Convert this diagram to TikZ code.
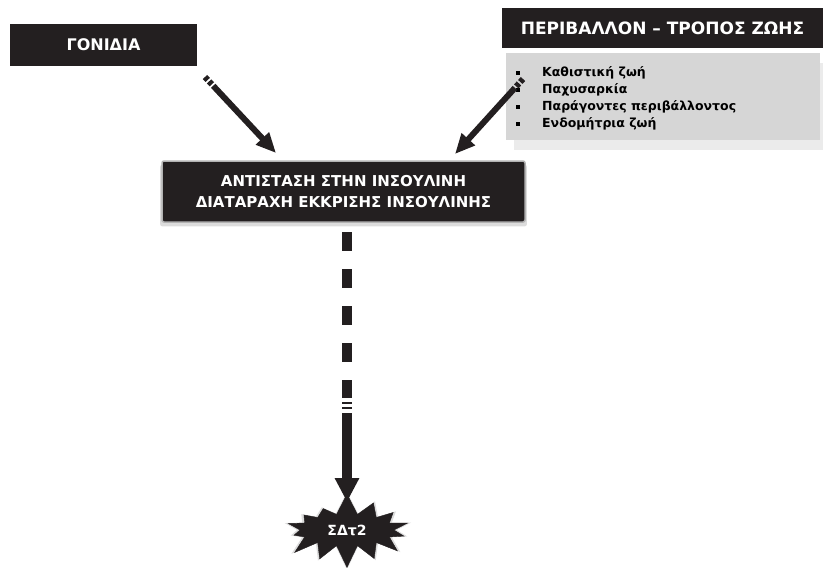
\documentclass[tikz,border=0pt]{standalone}
\usepackage{fontspec}
\setmainfont{DejaVu Sans}
\usetikzlibrary{arrows.meta,shadows,shapes.symbols}
\definecolor{ink}{HTML}{231F20}
\definecolor{panel}{HTML}{D6D6D6}
\definecolor{panelshade}{HTML}{EBEBEB}

\begin{document}
\begin{tikzpicture}[x=1pt,y=-1pt]
        \tikzstyle{blackbox}=[fill=ink, text=white, inner sep=0pt]
        \tikzstyle{pencil}=[ink, line width=6pt, -{Triangle[length=20pt,width=17pt]},
          dash pattern=on 4pt off 2pt on 4pt off 2pt on 400pt]
        \tikzstyle{dropline}=[ink, line width=10pt, -{Triangle[length=24pt,width=23pt]},
          dash pattern=on 19pt off 18pt on 19pt off 18pt on 19pt off 18pt on 19pt off 18pt
          on 18pt off 4pt on 2pt off 3pt on 2pt off 4pt on 300pt]
        \useasboundingbox (0,0) rectangle (823,568);
        % causes
        \node[blackbox, minimum width=187pt, minimum height=42pt,
          font=\bfseries\fontsize{16}{18}\selectfont] (g) at (103.5,45) {ΓΟΝΙΔΙΑ};
        \node[blackbox, minimum width=321pt, minimum height=40pt,
          font=\bfseries\fontsize{17}{20}\selectfont] (p) at (662.5,28) {ΠΕΡΙΒΑΛΛΟΝ – ΤΡΟΠΟΣ ΖΩΗΣ};
        \node[fill=panel, minimum width=314pt, minimum height=87pt,
          general shadow={fill=panelshade, shadow xshift=8pt, shadow yshift=-10pt}] (l) at (663,96.5) {};
        \node[anchor=west, align=left, inner sep=0pt, font=\bfseries\fontsize{12.5}{17}\selectfont] (t) at (516,98.5)
          {\raisebox{2pt}{\rule{4pt}{4pt}}\hspace{22pt}Καθιστική ζωή\\
           \raisebox{2pt}{\rule{4pt}{4pt}}\hspace{22pt}Παχυσαρκία\\
           \raisebox{2pt}{\rule{4pt}{4pt}}\hspace{22pt}Παράγοντες περιβάλλοντος\\
           \raisebox{2pt}{\rule{4pt}{4pt}}\hspace{22pt}Ενδομήτρια ζωή};
        % result
        \node[blackbox, draw=gray!60, line width=1.5pt, rounded corners=2pt, minimum width=363pt,
          minimum height=61pt, align=center, font=\bfseries\fontsize{15}{21}\selectfont,
          drop shadow={fill=gray!55, shadow xshift=0pt, shadow yshift=-4pt, shadow scale=1.01}] (a) at (343.5,191.5)
          {ΑΝΤΙΣΤΑΣΗ ΣΤΗΝ ΙΝΣΟΥΛΙΝΗ\\ΔΙΑΤΑΡΑΧΗ ΕΚΚΡΙΣΗΣ ΙΝΣΟΥΛΙΝΗΣ};
        \node[starburst, starburst points=14, starburst point height=22pt, random starburst=7,
          fill=ink, draw=ink, minimum width=138pt, minimum height=76pt, text=white, inner sep=6pt,
          font=\bfseries\fontsize{14}{16}\selectfont,
          drop shadow={fill=gray!55, shadow xshift=0pt, shadow yshift=0pt, shadow scale=1.06}] (s) at (347,530) {ΣΔτ2};
        % arrows
        \coordinate (t1) at (205,77);
        \coordinate (h1) at (276,153);
        \coordinate (t2) at (523,79);
        \coordinate (h2) at (455,154);
        \coordinate (t3) at (347,232);
        \coordinate (h3) at (347,502);
        \draw[pencil] (t1) -- (h1);
        \draw[pencil] (t2) -- (h2);
        \draw[dropline] (t3) -- (h3);
\end{tikzpicture}
\end{document}
